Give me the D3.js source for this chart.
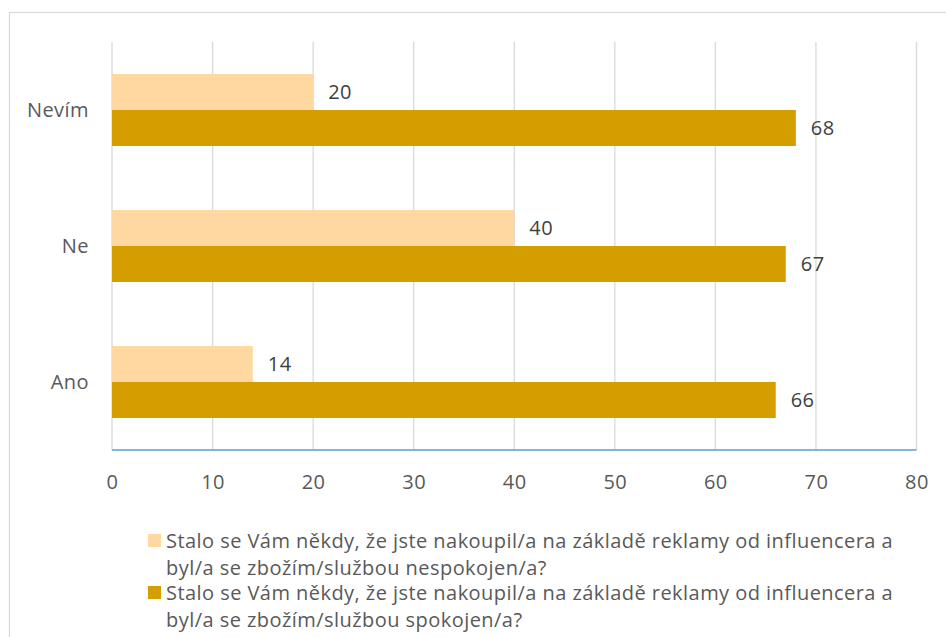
<!DOCTYPE html>
<html>
<head>
<meta charset="utf-8">
<script src="https://cdn.jsdelivr.net/npm/d3@7/dist/d3.min.js"></script>
<style>
  html, body { margin: 0; padding: 0; background: #fff; }
  svg { display: block; font-family: "Open Sans", Lato, sans-serif; }
</style>
</head>
<body>
<svg id="chart" width="946" height="637"></svg>
<script>
// Answer categories, listed top to bottom
const categories = ["Nevím", "Ne", "Ano"];
// Series names (legend text)
const seriesNames = [
  "Stalo se Vám někdy, že jste nakoupil/a na základě reklamy od influencera a byl/a se zbožím/službou nespokojen/a?",
  "Stalo se Vám někdy, že jste nakoupil/a na základě reklamy od influencera a byl/a se zbožím/službou spokojen/a?"
];
// Legend text split into lines
const legendLines = [
  ["Stalo se Vám někdy, že jste nakoupil/a na základě reklamy od influencera a", "byl/a se zbožím/službou nespokojen/a?"],
  ["Stalo se Vám někdy, že jste nakoupil/a na základě reklamy od influencera a", "byl/a se zbožím/službou spokojen/a?"]
];
// Values per category (same order as categories)
const nespokojen = [20, 40, 14];
const spokojen = [68, 67, 66];
// Axis ticks
const xTicks = [0, 10, 20, 30, 40, 50, 60, 70, 80];

const colors = ["#FFD8A1", "#D49E00"];
const textColor = "#595959";
const fontFamily = "'Open Sans', Lato, sans-serif";
const fs = 20;
const ls = 0.45;

const svg = d3.select("#chart");

// Chart frame
svg.append("rect")
  .attr("x", 9.5).attr("y", 12.5)
  .attr("width", 1000).attr("height", 1000)
  .attr("fill", "#fff")
  .attr("stroke", "#D9D9D9").attr("stroke-width", 1.2);

const plot = { left: 112, right: 916.5, top: 42, bottom: 450 };

const x = d3.scaleLinear().domain([0, 80]).range([plot.left, plot.right]);
const y = d3.scaleBand().domain(categories).range([plot.top, plot.bottom]).paddingInner(0).paddingOuter(0);

// Bars of one group occupy the middle of each band
const groupFrac = 72 / 136;
const inner = d3.scaleBand().domain([0, 1])
  .range([y.bandwidth() * (1 - groupFrac) / 2, y.bandwidth() * (1 + groupFrac) / 2]);

// Vertical gridlines
svg.append("g")
  .selectAll("line")
  .data(xTicks)
  .join("line")
  .attr("x1", d => x(d)).attr("x2", d => x(d))
  .attr("y1", plot.top).attr("y2", plot.bottom)
  .attr("stroke", "#D9D9D9").attr("stroke-width", 1.3);

// Bars and value labels
const seriesData = [nespokojen, spokojen];
seriesData.forEach((vals, si) => {
  const g = svg.append("g");
  const rows = categories.map((c, i) => ({ c, v: vals[i] }));
  g.selectAll("rect")
    .data(rows)
    .join("rect")
    .attr("x", x(0))
    .attr("y", d => y(d.c) + inner(si))
    .attr("width", d => x(d.v) - x(0))
    .attr("height", inner.bandwidth())
    .attr("fill", colors[si]);
  g.selectAll("text")
    .data(rows)
    .join("text")
    .attr("x", d => x(d.v) + 15)
    .attr("y", d => y(d.c) + inner(si) + inner.bandwidth() / 2)
    .attr("dy", "0.36em")
    .attr("font-size", fs)
    .attr("letter-spacing", ls)
    .attr("fill", "#404040")
    .text(d => d.v);
});

// Bottom axis line
svg.append("line")
  .attr("x1", plot.left).attr("x2", plot.right)
  .attr("y1", plot.bottom).attr("y2", plot.bottom)
  .attr("stroke", "#5B9BD5").attr("stroke-width", 1.5);

// X tick labels
const xAxis = d3.axisBottom(x).tickValues(xTicks).tickSize(0).tickPadding(0);
const gx = svg.append("g").attr("transform", `translate(0,${plot.bottom})`).call(xAxis);
gx.select(".domain").remove();
gx.selectAll("text")
  .attr("y", 39).attr("dy", 0)
  .attr("font-size", fs).attr("font-family", fontFamily)
  .attr("letter-spacing", ls)
  .attr("fill", textColor);

// Category labels
const yAxis = d3.axisLeft(y).tickSize(0).tickPadding(0);
const gy = svg.append("g").attr("transform", `translate(89,0)`).call(yAxis);
gy.select(".domain").remove();
gy.selectAll("text")
  .attr("x", 0).attr("dy", "0.36em")
  .attr("font-size", fs).attr("font-family", fontFamily)
  .attr("letter-spacing", ls)
  .attr("fill", textColor);

// Legend
const legend = svg.append("g");
seriesNames.forEach((name, i) => {
  const top = 534 + i * 52;
  legend.append("rect")
    .attr("x", 148).attr("y", top)
    .attr("width", 13).attr("height", 13)
    .attr("fill", colors[i]);
  const t = legend.append("text")
    .attr("font-size", fs)
    .attr("letter-spacing", ls)
    .attr("fill", textColor);
  legendLines[i].forEach((line, j) => {
    t.append("tspan")
      .attr("x", 166)
      .attr("y", top + 14 + j * 27)
      .text(line);
  });
});
</script>
</body>
</html>
